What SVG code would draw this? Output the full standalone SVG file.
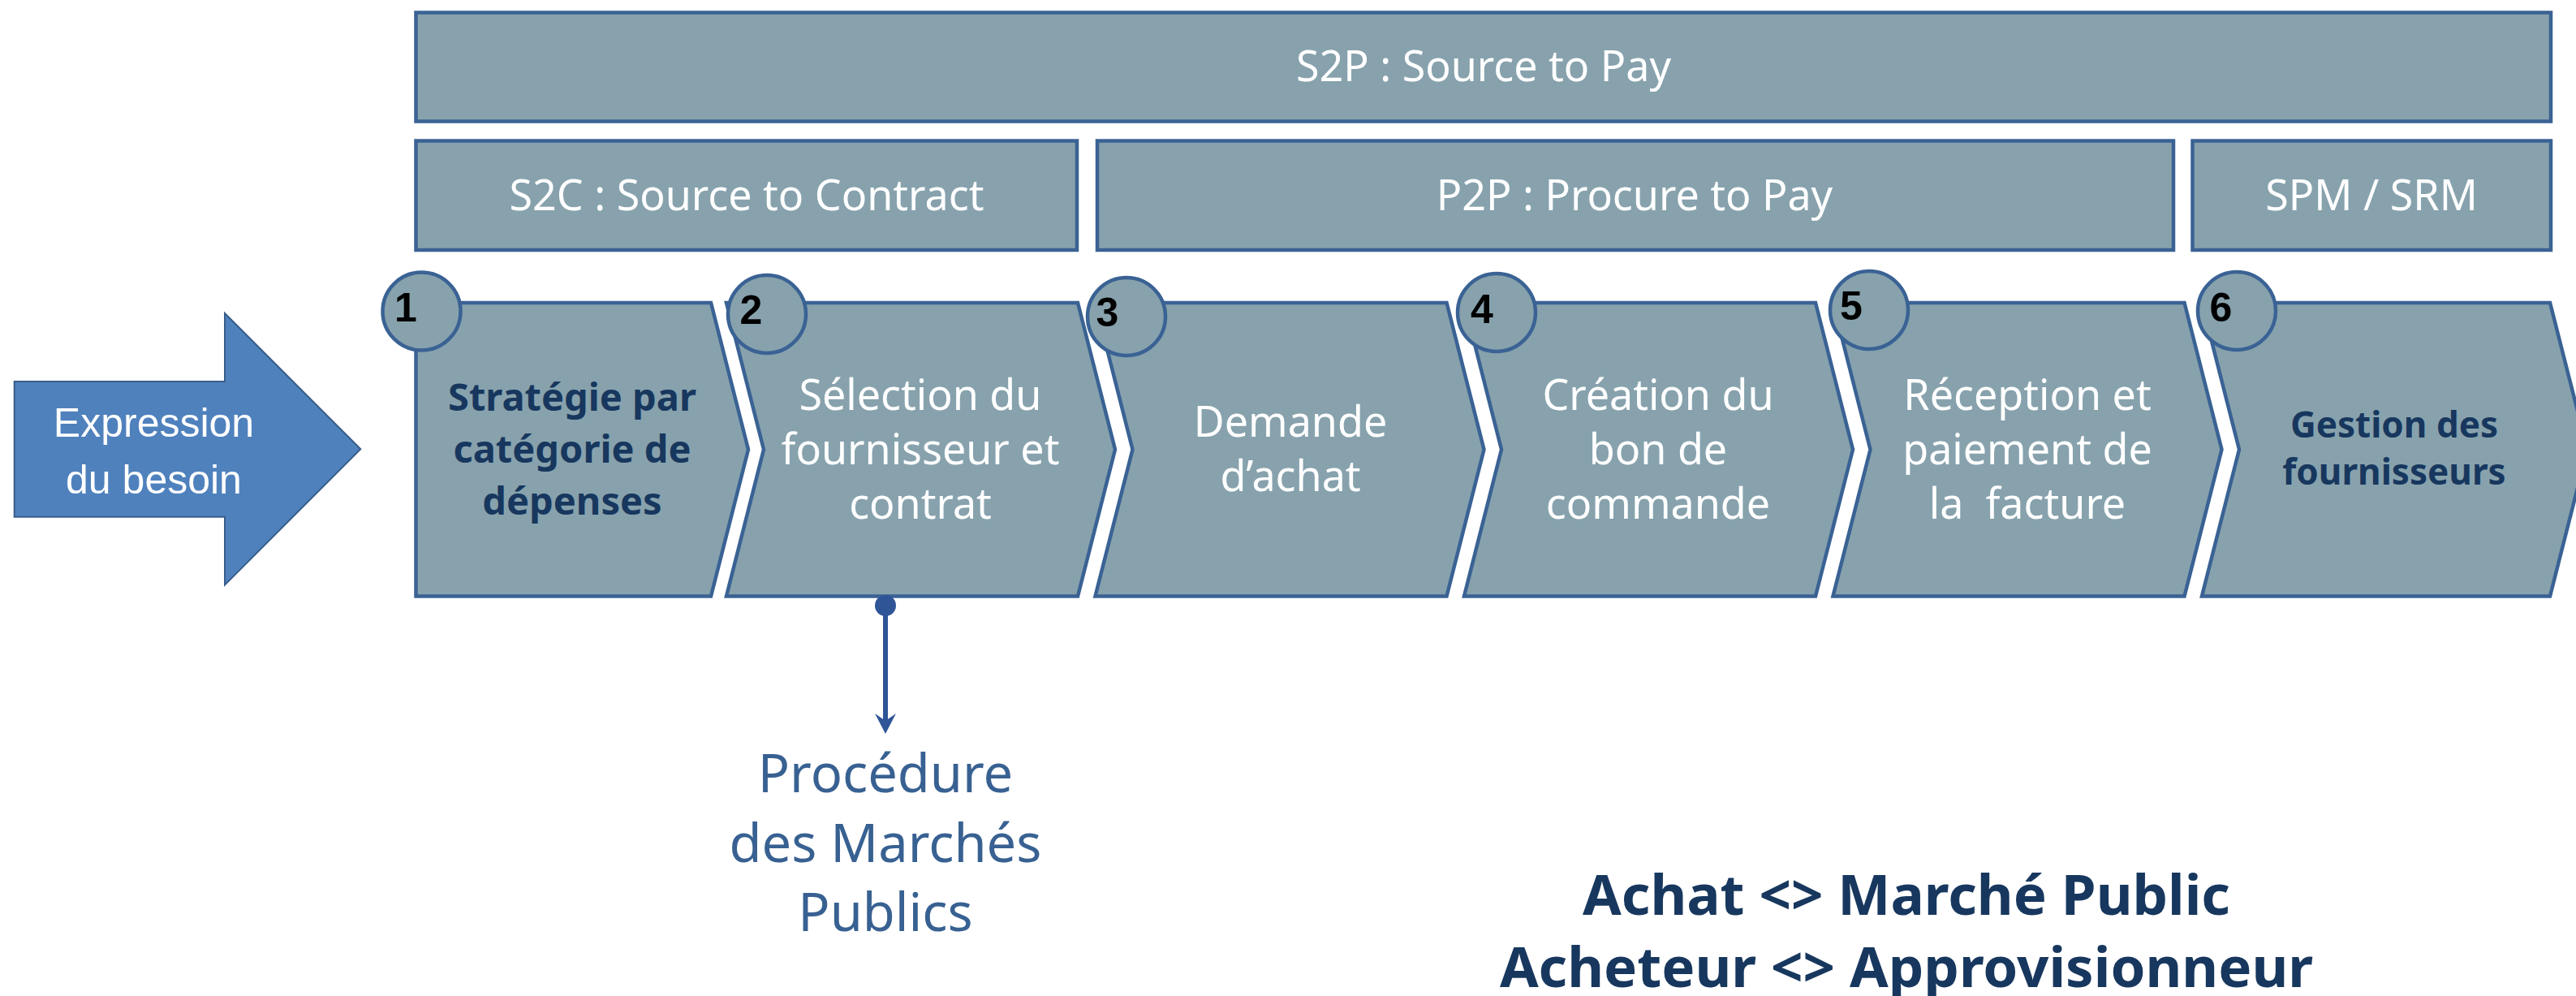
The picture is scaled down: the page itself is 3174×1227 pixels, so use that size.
<svg xmlns="http://www.w3.org/2000/svg" width="3174" height="1227" viewBox="0 0 3174 1227">
  <style>
    .box { fill: #87A2AD; stroke: #3A6294; stroke-width: 4.5; }
    .num { font-family: "Liberation Sans", Arial, sans-serif; font-weight: bold; font-size: 50px; fill: #000000; text-anchor: middle; }
    .hdr { font-family: "Noto Sans", "Liberation Sans", sans-serif; font-size: 52px; fill: #FFFFFF; text-anchor: middle; }
    .wt { font-family: "Noto Sans", "Liberation Sans", sans-serif; font-size: 52px; fill: #FFFFFF; text-anchor: middle; }
    .bt { font-family: "Noto Sans", "Liberation Sans", sans-serif; font-weight: bold; fill: #17375E; text-anchor: middle; }
    .proc { font-family: "Noto Sans", "Liberation Sans", sans-serif; font-size: 65px; fill: #386192; text-anchor: middle; }
    .expr { font-family: "Liberation Sans", Arial, sans-serif; font-size: 50px; fill: #FFFFFF; text-anchor: middle; }
    .conn { fill: none; stroke: #2F5597; stroke-width: 6; }
  </style>
  <defs>
    <marker id="arrowEnd" markerUnits="userSpaceOnUse" viewBox="0 0 26 26" refX="13" refY="13" markerWidth="26" markerHeight="26" orient="auto">
      <path d="M0,0 L25,13 L0,26 L9,13 Z" fill="#2F5597"/>
    </marker>
    <marker id="dotStart" markerUnits="userSpaceOnUse" viewBox="0 0 26 26" refX="13" refY="13" markerWidth="26" markerHeight="26" orient="auto">
      <circle cx="13" cy="13" r="13" fill="#2F5597"/>
    </marker>
  </defs>

  <rect width="3174" height="1227" fill="#FFFFFF"/>

  <!-- Header bars -->
  <g id="s2p">
    <rect class="box" x="512.5" y="15.5" width="2630.5" height="134"/>
    <text class="hdr" x="1828" y="100">S2P : Source to Pay</text>
  </g>
  <g id="s2c">
    <rect class="box" x="512.5" y="173.5" width="814.5" height="134.5"/>
    <text class="hdr" x="920" y="258.5">S2C : Source to Contract</text>
  </g>
  <g id="p2p">
    <rect class="box" x="1352" y="173.5" width="1326" height="134.5"/>
    <text class="hdr" x="2014" y="258.5">P2P : Procure to Pay</text>
  </g>
  <g id="spm">
    <rect class="box" x="2701.5" y="173.5" width="441.5" height="134.5"/>
    <text class="hdr" x="2922" y="258.5">SPM / SRM</text>
  </g>

  <!-- Expression du besoin arrow -->
  <g id="expression">
    <polygon points="17.7,470 277,470 277,386 444.3,553.3 277,720.7 277,636.7 17.7,636.7" fill="#4F81BD" stroke="#385D8A" stroke-width="2"/>
    <text class="expr" x="189.5" y="538">Expression</text>
    <text class="expr" x="189.5" y="608">du besoin</text>
  </g>

  <!-- Step 1 -->
  <g id="step1">
    <polygon class="box" points="512.5,373 876,373 922,553.7 876,734.5 512.5,734.5"/>
    <circle class="box" cx="519.5" cy="383.5" r="48"/>
    <text class="num" x="500" y="396">1</text>
    <text class="bt" font-size="47" x="705" y="506">Stratégie par</text>
    <text class="bt" font-size="47" x="705" y="570">catégorie de</text>
    <text class="bt" font-size="47" x="705" y="634">dépenses</text>
  </g>

  <!-- Step 2 -->
  <g id="step2">
    <polygon class="box" points="895,373 1328,373 1374,553.7 1328,734.5 895,734.5 941,553.7"/>
    <circle class="box" cx="945" cy="387" r="48"/>
    <text class="num" x="925.5" y="399">2</text>
    <text class="wt" x="1134" y="505">Sélection du</text>
    <text class="wt" x="1134" y="572">fournisseur et</text>
    <text class="wt" x="1134" y="639">contrat</text>
  </g>

  <!-- Step 3 -->
  <g id="step3">
    <polygon class="box" points="1349.5,373 1782.5,373 1828.5,553.7 1782.5,734.5 1349.5,734.5 1395.5,553.7"/>
    <circle class="box" cx="1388" cy="390" r="48"/>
    <text class="num" x="1364.5" y="402">3</text>
    <text class="wt" x="1590" y="538">Demande</text>
    <text class="wt" x="1590" y="605">d’achat</text>
  </g>

  <!-- Step 4 -->
  <g id="step4">
    <polygon class="box" points="1804,373 2237,373 2283,553.7 2237,734.5 1804,734.5 1850,553.7"/>
    <circle class="box" cx="1844" cy="385" r="48"/>
    <text class="num" x="1826" y="398">4</text>
    <text class="wt" x="2043" y="505">Création du</text>
    <text class="wt" x="2043" y="572">bon de</text>
    <text class="wt" x="2043" y="639">commande</text>
  </g>

  <!-- Step 5 -->
  <g id="step5">
    <polygon class="box" points="2258.5,373 2691.5,373 2737.5,553.7 2691.5,734.5 2258.5,734.5 2304.5,553.7"/>
    <circle class="box" cx="2303" cy="382" r="48"/>
    <text class="num" x="2281" y="394">5</text>
    <text class="wt" x="2498" y="505">Réception et</text>
    <text class="wt" x="2498" y="572">paiement de</text>
    <text class="wt" x="2498" y="639" xml:space="preserve">la  facture</text>
  </g>

  <!-- Step 6 -->
  <g id="step6">
    <polygon class="box" points="2713,373 3142,373 3188,553.7 3142,734.5 2713,734.5 2759,553.7"/>
    <circle class="box" cx="2756" cy="383" r="48"/>
    <text class="num" x="2736.5" y="396">6</text>
    <text class="bt" font-size="44" x="2950" y="539">Gestion des</text>
    <text class="bt" font-size="44" x="2950" y="597">fournisseurs</text>
  </g>

  <!-- Procédure des Marchés Publics -->
  <g id="procedure">
    <text class="proc" x="1091" y="976">Procédure</text>
    <text class="proc" x="1091" y="1062">des Marchés</text>
    <text class="proc" x="1091" y="1147">Publics</text>
  </g>

  <!-- Equivalences -->
  <g id="equivalences">
    <text class="bt" font-size="69" x="2349" y="1127">Achat &lt;&gt; Marché Public</text>
    <text class="bt" font-size="69" x="2349" y="1216">Acheteur &lt;&gt; Approvisionneur</text>
  </g>

  <!-- Connectors -->
  <g id="connectors">
    <line class="conn" x1="1091" y1="746" x2="1091" y2="892" marker-start="url(#dotStart)" marker-end="url(#arrowEnd)"/>
  </g>
</svg>
